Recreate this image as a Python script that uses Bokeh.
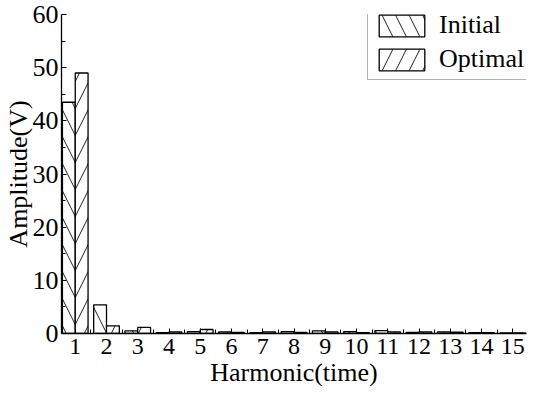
from bokeh.plotting import figure
from bokeh.models import Range1d, Legend, LegendItem, FixedTicker, ColumnDataSource
from bokeh.embed import file_html
from bokeh.resources import INLINE

harmonics = list(range(1, 16))
initial = [43.5, 5.4, 0.5, 0.15, 0.35, 0.3, 0.15, 0.35, 0.5, 0.35, 0.55, 0.2, 0.3, 0.15, 0.1]
optimal = [49.0, 1.45, 1.15, 0.3, 0.75, 0.2, 0.3, 0.2, 0.3, 0.15, 0.3, 0.3, 0.25, 0.15, 0.1]
y_ticks = [0, 10, 20, 30, 40, 50, 60]
series_names = ["Initial", "Optimal"]

FONT = "Liberation Serif"
bar_w = 0.41

p = figure(width=534, height=391, output_backend="svg", toolbar_location=None,
           x_range=Range1d(0.56, 15.44), y_range=Range1d(0, 60),
           min_border_left=54, min_border_right=8, min_border_top=14, min_border_bottom=58)
p.outline_line_color = None
p.grid.grid_line_color = None
p.background_fill_color = "white"

src_i = ColumnDataSource(dict(x=[h - bar_w / 2 for h in harmonics], top=initial))
src_o = ColumnDataSource(dict(x=[h + bar_w / 2 for h in harmonics], top=optimal))

r1 = p.vbar(x="x", top="top", width=bar_w, source=src_i, fill_color="white",
            line_color="black", line_width=1.3, hatch_pattern="\\", hatch_scale=27,
            hatch_color="#222222", hatch_weight=1)
r2 = p.vbar(x="x", top="top", width=bar_w, source=src_o, fill_color="white",
            line_color="black", line_width=1.3, hatch_pattern="/", hatch_scale=27,
            hatch_color="#222222", hatch_weight=1)

for ax in (p.xaxis[0], p.yaxis[0]):
    ax.axis_line_color = "black"
    ax.axis_line_width = 1.3
    ax.major_tick_line_color = "black"
    ax.minor_tick_line_color = "black"
    ax.major_tick_in = 5
    ax.major_tick_out = 0
    ax.minor_tick_in = 4
    ax.minor_tick_out = 0
    ax.major_label_text_font = FONT
    ax.major_label_text_color = "black"
    ax.axis_label_text_font = FONT
    ax.axis_label_text_font_size = "26px"
    ax.axis_label_text_font_style = "normal"
    ax.axis_label_text_color = "black"

p.xaxis.major_label_text_font_size = "24px"
p.yaxis.major_label_text_font_size = "26px"
p.xaxis.ticker = FixedTicker(ticks=harmonics, minor_ticks=[h + 0.5 for h in range(0, 16)])
p.yaxis.ticker = FixedTicker(ticks=y_ticks, minor_ticks=[5, 15, 25, 35, 45, 55])
p.xaxis.axis_label = "Harmonic(time)"
p.yaxis.axis_label = "Amplitude(V)"
p.xaxis.major_label_standoff = 5
p.xaxis.axis_label_standoff = 1
p.yaxis.major_label_standoff = 3
p.yaxis.axis_label_standoff = -3

legend = Legend(items=[LegendItem(label=series_names[0], renderers=[r1]),
                       LegendItem(label=series_names[1], renderers=[r2])],
                location=(306, 253))
legend.glyph_width = 57
legend.glyph_height = 27
legend.label_height = 27
legend.label_standoff = 9
legend.spacing = 4
legend.padding = 5
legend.margin = 0
legend.label_text_font = FONT
legend.label_text_font_size = "26px"
legend.label_text_line_height = 1.0
legend.label_text_color = "black"
legend.border_line_color = "#666666"
legend.border_line_width = 1
legend.background_fill_alpha = 1
p.add_layout(legend, "center")

open("out.html", "w").write(file_html(p, INLINE))
